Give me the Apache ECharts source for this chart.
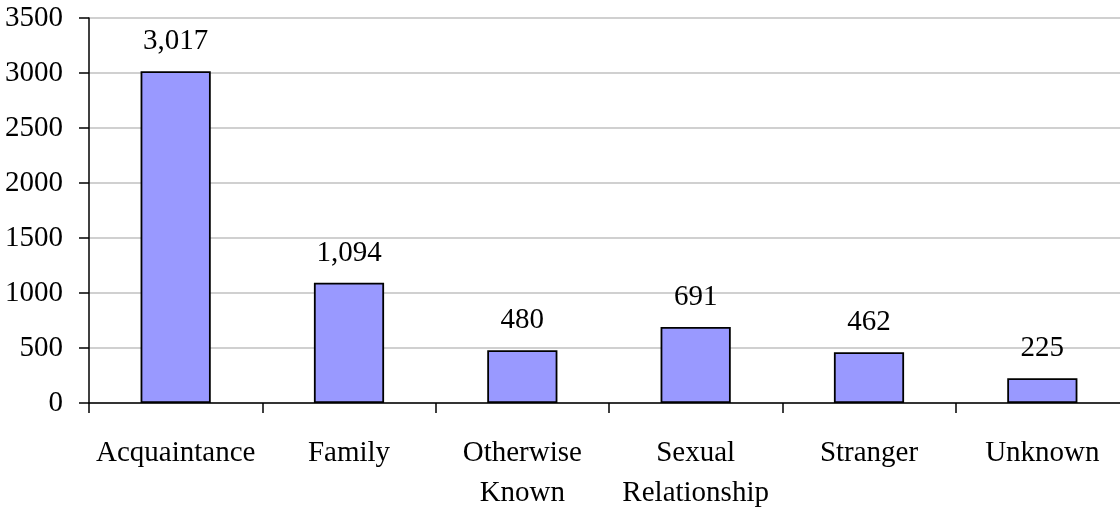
<!DOCTYPE html>
<html><head><meta charset="utf-8">
<script src="https://cdn.jsdelivr.net/npm/echarts@6/dist/echarts.min.js"></script>
<style>html,body{margin:0;padding:0;background:#fff}#c{width:1120px;height:508px}</style>
</head><body><div id="c"></div>
<script>
const categories = ['Acquaintance', 'Family', 'Otherwise\nKnown', 'Sexual\nRelationship', 'Stranger', 'Unknown'];
const values = [3017, 1094, 480, 691, 462, 225];
const yTicks = [0, 500, 1000, 1500, 2000, 2500, 3000, 3500];

const font = '"Liberation Serif", "Times New Roman", serif';
const chart = echarts.init(document.getElementById('c'));
chart.setOption({
  animation: false,
  grid: { left: 89, top: 18, width: 1040, height: 385, outerBoundsMode: 'none', containLabel: false },
  xAxis: {
    type: 'category', data: categories,
    axisLine: { lineStyle: { color: '#000', width: 1.5 } },
    axisTick: { show: true, length: 10, alignWithLabel: false, lineStyle: { color: '#000', width: 1.5 } },
    axisLabel: { color: '#000', fontFamily: font, fontSize: 29, margin: 30, lineHeight: 40, interval: 0 }
  },
  yAxis: {
    type: 'value', min: 0, max: yTicks[yTicks.length - 1], interval: 500,
    axisLine: { show: true, lineStyle: { color: '#000', width: 1.5 } },
    axisTick: { show: true, length: 10, lineStyle: { color: '#000', width: 1.5 } },
    splitLine: { show: true, lineStyle: { color: '#c0c0c0', width: 1.5 } },
    axisLabel: { color: '#000', fontFamily: font, fontSize: 29, margin: 26, formatter: v => String(v) }
  },
  series: [{
    type: 'bar', data: values, barWidth: '40.5%',
    itemStyle: { color: '#9999FF', borderColor: '#000', borderWidth: 1.8 },
    label: {
      show: true, position: 'top', distance: 15, color: '#000', fontFamily: font, fontSize: 29,
      formatter: p => p.value.toLocaleString('en-US')
    }
  }]
});
</script></body></html>
